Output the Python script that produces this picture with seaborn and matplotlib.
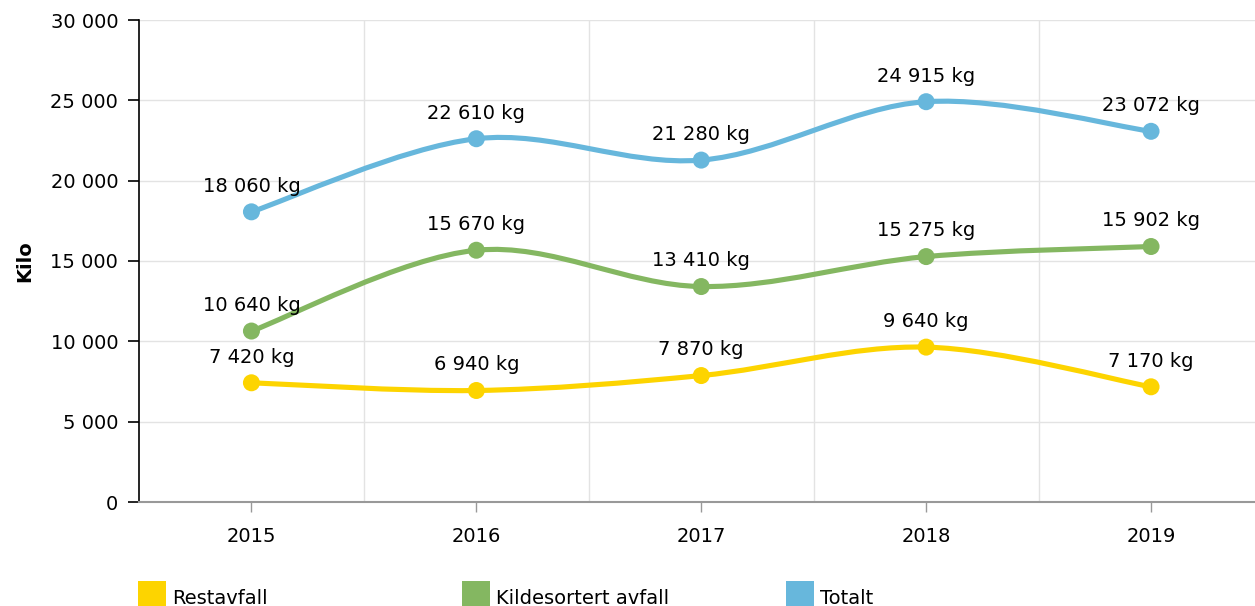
import matplotlib
matplotlib.use("Agg")
import matplotlib.pyplot as plt
import seaborn as sns
import numpy as np
import pandas as pd
from matplotlib.path import Path
from matplotlib.patches import PathPatch, Rectangle
from matplotlib.ticker import FuncFormatter, MultipleLocator

# Data
years = ["2015", "2016", "2017", "2018", "2019"]
series_names = ["Restavfall", "Kildesortert avfall", "Totalt"]
restavfall = [7420, 6940, 7870, 9640, 7170]
kildesortert = [10640, 15670, 13410, 15275, 15902]
totalt = [18060, 22610, 21280, 24915, 23072]
colors = ["#fdd400", "#84b761", "#67b7dc"]

values = [restavfall, kildesortert, totalt]

df = pd.DataFrame({
    "year": np.tile(np.arange(len(years)), len(series_names)),
    "kg": np.concatenate(values),
    "serie": np.repeat(series_names, len(years)),
})

sns.set_theme(style="white")
plt.rcParams["font.family"] = ["DejaVu Sans"]
FS = 14

W, H = 1255, 606
fig = plt.figure(figsize=(W / 100, H / 100), dpi=100)
ax = fig.add_axes([139 / W, (H - 502) / H, 1116 / W, 482 / H])


def smooth_path(xs, ys):
    # Catmull-Rom segments written as cubic Bezier curves
    pts = list(zip(xs, ys))
    verts = [pts[0]]
    codes = [Path.MOVETO]
    n = len(pts)
    for i in range(n - 1):
        p0 = pts[i - 1] if i > 0 else pts[i]
        p1 = pts[i]
        p2 = pts[i + 1]
        p3 = pts[i + 2] if i < n - 2 else pts[i + 1]
        c1 = (p1[0] + (p2[0] - p0[0]) / 6, p1[1] + (p2[1] - p0[1]) / 6)
        c2 = (p2[0] - (p3[0] - p1[0]) / 6, p2[1] - (p3[1] - p1[1]) / 6)
        verts += [c1, c2, p2]
        codes += [Path.CURVE4] * 3
    return Path(verts, codes)


xs = np.arange(len(years))
for vals, col in zip(values, colors):
    ax.add_patch(PathPatch(smooth_path(xs, vals), facecolor="none",
                           edgecolor=col, lw=3.7, zorder=3, capstyle="round"))

sns.scatterplot(data=df, x="year", y="kg", hue="serie", palette=colors,
                s=150, edgecolor="none", linewidth=0, zorder=4,
                legend=False, ax=ax)

for vals in values:
    for x, v in zip(xs, vals):
        ax.annotate(f"{v:,} kg".replace(",", " "), (x, v), xytext=(0, 14.5),
                    textcoords="offset points", ha="center", va="baseline",
                    fontsize=FS, color="#000000", zorder=5)

# Axes styling
ax.yaxis.set_major_locator(MultipleLocator(5000))
ax.yaxis.set_major_formatter(FuncFormatter(lambda v, p: f"{v:,.0f}".replace(",", " ")))
ax.set_xticks(xs)
ax.set_xticklabels(years)
ax.set_xticks(xs[:-1] + 0.5, minor=True)
ax.set_xlim(-0.5, (W - 251) / 225)
ax.set_ylim(0, 30000)

ax.grid(False)
ax.grid(axis="y", which="major", color="#e3e3e3", lw=1.0, zorder=0)
ax.grid(axis="x", which="minor", color="#e3e3e3", lw=1.0, zorder=0)
ax.set_axisbelow(True)

for side in ["top", "right"]:
    ax.spines[side].set_visible(False)
ax.spines["left"].set_color("#000000")
ax.spines["left"].set_linewidth(1.2)
ax.spines["bottom"].set_color("#999999")
ax.spines["bottom"].set_linewidth(1.5)

ax.tick_params(axis="y", which="major", left=True, length=8, width=1.2,
               color="#000000", pad=7, labelsize=FS, labelcolor="#000000")
ax.tick_params(axis="x", which="major", bottom=True, length=7.5, width=1.0,
               color="#999999", pad=10.5, labelsize=FS, labelcolor="#000000")
ax.tick_params(axis="x", which="minor", bottom=False, length=0)

ax.set_xlabel("")
ax.set_ylabel("Kilo", fontsize=FS, fontweight="bold", color="#000000")
ax.yaxis.set_label_coords((34 - 139) / 1116, 0.5)

# Legend along the bottom edge
for i, (name, col) in enumerate(zip(series_names, colors)):
    x0 = 138 + 324 * i
    fig.add_artist(Rectangle((x0 / W, -3 / H), 28 / W, 28 / H,
                             transform=fig.transFigure, facecolor=col,
                             edgecolor="none"))
    fig.text((x0 + 34) / W, 2 / H, name, fontsize=FS, va="baseline",
             ha="left", color="#000000")

fig.savefig("out.png", dpi=100)
plt.close(fig)
